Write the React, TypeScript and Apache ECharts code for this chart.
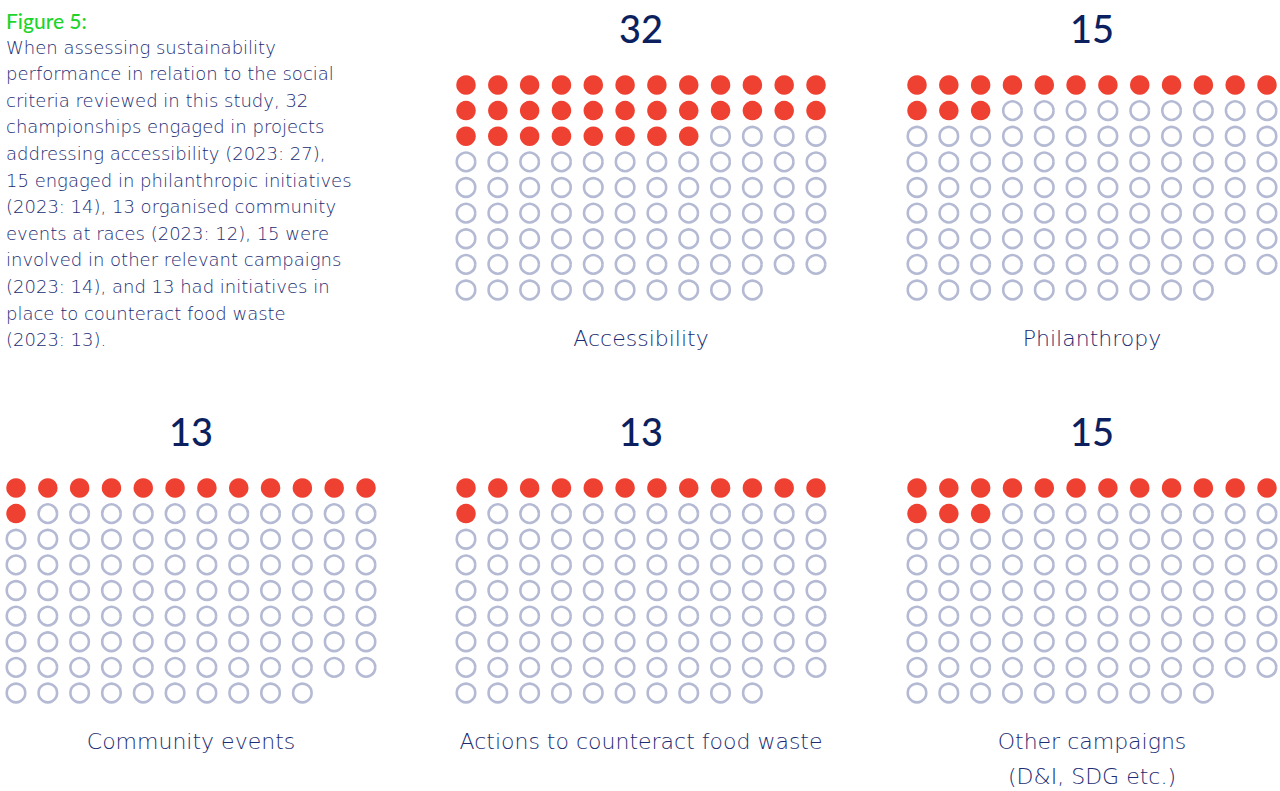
import React, { useEffect, useRef } from "react";
import * as echarts from "echarts";

const categories = [
  "Accessibility",
  "Philanthropy",
  "Community events",
  "Actions to counteract food waste",
  "Other campaigns\n(D&I, SDG etc.)",
];
const values = [32, 15, 13, 13, 15];
const totalDots = 106;
const perRow = 12;

const figureTitle = "Figure 5:";
const paragraphLines = [
  "When assessing sustainability",
  "performance in relation to the social",
  "criteria reviewed in this study, 32",
  "championships engaged in projects",
  "addressing accessibility (2023: 27),",
  "15 engaged in philanthropic initiatives",
  "(2023: 14), 13 organised community",
  "events at races (2023: 12), 15 were",
  "involved in other relevant campaigns",
  "(2023: 14), and 13 had initiatives in",
  "place to counteract food waste",
  "(2023: 13).",
];

const RED = "#ef4131";
const RING = "#b4bad3";
const NAVY = "#0c1f5e";
const TEXT = "#1b2c72";
const FONT = "Lato, 'Open Sans', sans-serif";
const LIGHT = "'DejaVu Sans', Lato, sans-serif";

const panelLeft = [466, 917, 16, 466, 917];
const panelTop = [85, 85, 488, 488, 488];
const panelW = 350;
const panelH = 205;

export default function App() {
  const ref = useRef<HTMLDivElement>(null);
  useEffect(() => {
    if (!ref.current) return;
    const chart = echarts.init(ref.current, null, { renderer: "svg" });
    const grids: any[] = [];
    const xAxes: any[] = [];
    const yAxes: any[] = [];
    const series: any[] = [];
    const graphics: any[] = [];

    values.forEach((v, p) => {
      grids.push({ left: panelLeft[p], top: panelTop[p], width: panelW, height: panelH });
      xAxes.push({ type: "value", gridIndex: p, min: 0, max: perRow - 1, show: false });
      yAxes.push({ type: "value", gridIndex: p, min: 0, max: Math.ceil(totalDots / perRow) - 1, inverse: true, show: false });
      const filled: number[][] = [];
      const empty: number[][] = [];
      for (let i = 0; i < totalDots; i++) {
        const pt = [i % perRow, Math.floor(i / perRow)];
        (i < v ? filled : empty).push(pt);
      }
      series.push({
        type: "scatter", xAxisIndex: p, yAxisIndex: p, data: empty,
        symbol: "circle", symbolSize: 18.5,
        itemStyle: { color: "#ffffff", borderColor: RING, borderWidth: 2.6, opacity: 1 },
        silent: true,
      });
      series.push({
        type: "scatter", xAxisIndex: p, yAxisIndex: p, data: filled,
        symbol: "circle", symbolSize: 19.5,
        itemStyle: { color: RED, opacity: 1 },
        silent: true,
      });
      const cx = panelLeft[p] + panelW / 2;
      const top = panelTop[p];
      graphics.push({
        type: "text", x: cx, y: top - 57,
        style: { text: String(v), font: `500 38px ${FONT}`, fill: NAVY, align: "center", verticalAlign: "middle" },
      });
      graphics.push({
        type: "text", x: cx, y: top + 253 - 17.5,
        style: { text: categories[p], font: `200 22px ${LIGHT}`, fill: TEXT, align: "center", verticalAlign: "top", lineHeight: 35 },
      });
    });

    graphics.push({
      type: "text", x: 6, y: 20,
      style: { text: figureTitle, font: `500 21px ${FONT}`, fill: "#1ed42c", align: "left", verticalAlign: "middle" },
    });
    paragraphLines.forEach((line, i) => {
      graphics.push({
        type: "text", x: 6, y: 47 + i * 26.6,
        style: { text: line, font: `200 18px ${LIGHT}`, fill: TEXT, align: "left", verticalAlign: "middle" },
      });
    });

    chart.setOption({
      animation: false,
      backgroundColor: "#ffffff",
      grid: grids,
      xAxis: xAxes,
      yAxis: yAxes,
      series,
      graphic: graphics,
    });
    return () => chart.dispose();
  }, []);
  return <div ref={ref} style={{ position: "fixed", left: 0, top: 0, width: 1280, height: 791 }} />;
}
